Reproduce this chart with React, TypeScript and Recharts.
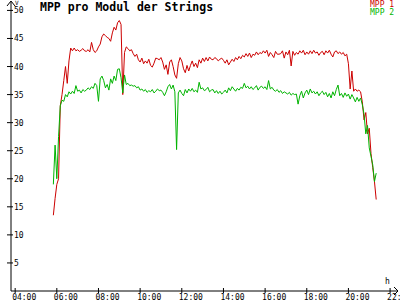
import React from 'react'
import { LineChart, Line, XAxis, YAxis } from 'recharts'

// samples every 5 minutes, first one at 05:50
const startHour = 5 + 50 / 60
const stepHours = 5 / 60

const mpp1 = [
  13.5, 16.5,
  19, 20, 33, 35, 37.5, 40, 37, 41, 43.3, 42.8, 43.3, 42.8,
  43, 42.7, 42.9, 43.2, 42.8, 42.7, 43, 42.6, 44.3, 43, 42.5, 42.8,
  43.5, 44, 45.3, 45.8, 45.5, 45.2, 45, 44.5, 46, 47, 46.5, 47.8,
  48.2, 47.5, 35, 42.5, 43.5, 43.2, 42.8, 43, 42.3, 41.8, 42.2, 41.2,
  40.8, 41.5, 40.5, 41, 40.6, 41.3, 40.2, 39.9, 40.6, 41.5, 41.4, 41.2,
  41.6, 40.8, 39.5, 40.3, 38.6, 40.8, 41.2, 40, 38.5, 37.9, 40.5, 41.6,
  41, 39.6, 38.9, 40.2, 39.2, 40.2, 41, 40, 40.6, 39.8, 41.2, 40.6,
  41.5, 40.9, 41.6, 41, 41.7, 41.3, 41.2, 41.6, 41.4, 41, 41.3, 41.5,
  41.1, 40.6, 41.2, 40.3, 40.8, 41.3, 40.9, 41.6, 41.2, 41.8, 41.4, 42,
  41.7, 42.3, 41.8, 42.4, 41.6, 42.2, 42, 42.6, 42.1, 42.5, 42.3, 42.8,
  42.4, 42.9, 41.8, 42.5, 42.1, 41.6, 42.7, 42.2, 42.2, 42.3, 42.8, 41.5,
  42.6, 42.1, 42.9, 40.1, 42.7, 42, 42.5, 42.2, 42.8, 42.4, 42.9, 42.1,
  42.6, 42.2, 42.8, 42.3, 42.9, 42.4, 42.6, 42, 42.5, 42.7, 42.1, 42.8,
  42.4, 42.9, 42.2, 41.7, 42.6, 42.8, 42.3, 42.6, 42.2, 42.5, 41.9, 42.2,
  40.5, 36, 39.2, 35.6, 36, 35.6, 35.8, 35.5, 33.7, 30.5, 31.8, 28,
  29, 24.5, 22, 19.5, 16.3
]

const mpp2 = [
  19, 26,
  20, 27.5, 33, 34, 33.8, 35, 34.6, 35.5, 35.1, 35.6, 35.2, 36.6,
  35.6, 35.8, 35.3, 35.9, 35.6, 35.8, 36.2, 35.9, 36.4, 36.1, 37, 36.6,
  33.8, 37.8, 38.3, 37.5, 36.2, 36.8, 35.8, 37.8, 37, 38.3, 37.5, 39.5,
  39.6, 38, 35.3, 38.5, 36.8, 37, 36.6, 36.7, 36.5, 36.6, 36.2, 36.4,
  35.8, 36, 35.6, 35.9, 35.4, 35.7, 35.5, 35.9, 35.3, 35.6, 36, 35.7,
  35.8, 35.4, 34.8, 35.5, 36.4, 36.8, 36, 36.7, 35.5, 25.2, 35.3, 35.8,
  35.2, 34.8, 35.9, 35.3, 36, 35.6, 36.1, 35.5, 35.8, 35.4, 37.2, 36,
  36.2, 35.7, 35.9, 36.3, 35.5, 35.8, 35.9, 35.3, 35.7, 35.2, 35.6, 35.1,
  35.4, 35.8, 35.3, 36.2, 35.7, 36.4, 36, 35.6, 36.1, 35.8, 36.3, 36.1,
  37, 36.2, 36.5, 36, 36.4, 35.9, 36.2, 36.6, 35.8, 36.3, 36.5, 36.1,
  36.4, 35.9, 37.5, 36, 36.3, 35.8, 35.6, 35.9, 35.4, 35.7, 35.2, 35.5,
  35.3, 35.1, 35.4, 34.9, 35.2, 35, 35.1, 33.3, 34.8, 35.6, 34.4, 35.3,
  35.8, 35, 36, 35.3, 35.6, 35.1, 35.5, 34.8, 35.3, 35.6, 35, 35.4,
  34.6, 35.2, 34.4, 35.5, 34.8, 35.9, 36.7, 34.8, 35.2, 34.5, 35.3, 34.7,
  35.1, 34.2, 35, 34.4, 33.7, 34.5, 33.8, 34.4, 33.2, 31.5, 28, 29.5,
  25.5, 24, 22.5, 19.5, 21
]

const xTicks = [4, 6, 8, 10, 12, 14, 16, 18, 20, 22]
const yTicks = [5, 10, 15, 20, 25, 30, 35, 40, 45, 50]
const seriesNames = ['MPP 1', 'MPP 2']
const seriesColors = ['#cc0000', '#00b400']
const title = 'MPP pro Modul der Strings'

const data = mpp1.map((v, i) => ({
  t: startHour + i * stepHours,
  mpp1: v,
  mpp2: mpp2[i]
}))

const W = 400
const H = 300
// axes get 1px of room each, the rest is margin
const margin = { top: 2, right: 2, bottom: 8, left: 10 }
const axisX = 11
const axisY = 291
const mono = '"DejaVu Sans Mono", monospace'

const fmtHour = (h: number) => (h < 10 ? '0' + h : '' + h) + ':00'

const YTick = (props: any) => {
  const { y, payload } = props
  return (
    <g>
      <line x1={axisX - 4} x2={axisX + 2} y1={y} y2={y} stroke="#000" />
      <text x={axisX + 3} y={y + 3} fontSize={8} fontFamily={mono} fill="#000">
        {payload.value}
      </text>
    </g>
  )
}

const XTick = (props: any) => {
  const { x, payload } = props
  return (
    <g>
      <line x1={x} x2={x} y1={axisY - 3} y2={axisY + 2} stroke="#000" />
      <text x={x - 3} y={axisY + 8.5} fontSize={8} fontFamily={mono} fill="#000">
        {fmtHour(payload.value)}
      </text>
    </g>
  )
}

export default function App() {
  return (
    <div style={{ position: 'absolute', left: 0, top: 0, width: W, height: H, background: '#fff' }}>
      <LineChart width={W} height={H} data={data} margin={margin}>
        <XAxis
          dataKey="t"
          type="number"
          domain={[3.8, 22.38]}
          ticks={xTicks}
          tick={<XTick />}
          tickLine={false}
          axisLine={{ stroke: '#000' }}
          height={1}
          interval={0}
          allowDataOverflow
        />
        <YAxis
          type="number"
          domain={[0, 51.5]}
          ticks={yTicks}
          tick={<YTick />}
          tickLine={false}
          axisLine={{ stroke: '#000' }}
          width={1}
          interval={0}
          allowDataOverflow
        />
        <Line
          dataKey="mpp1"
          name={seriesNames[0]}
          type="linear"
          stroke={seriesColors[0]}
          strokeWidth={1}
          dot={false}
          isAnimationActive={false}
        />
        <Line
          dataKey="mpp2"
          name={seriesNames[1]}
          type="linear"
          stroke={seriesColors[1]}
          strokeWidth={1}
          dot={false}
          isAnimationActive={false}
        />
      </LineChart>
      {/* title, legend and axis arrows */}
      <svg
        width={W}
        height={H}
        style={{ position: 'absolute', left: 0, top: 0, pointerEvents: 'none' }}
      >
        <text x={40} y={11} fontSize={11.5} fontWeight="bold" fontFamily={mono} fill="#000">
          {title}
        </text>
        <text x={370} y={7} fontSize={8} fontFamily={mono} fill={seriesColors[0]}>
          {seriesNames[0]}
        </text>
        <text x={370} y={15} fontSize={8} fontFamily={mono} fill={seriesColors[1]}>
          {seriesNames[1]}
        </text>
        <polyline points={`${axisX - 4},6 ${axisX},1 ${axisX + 4},6`} fill="none" stroke="#000" />
        <text x={15} y={5} fontSize={6} fontFamily={mono} fill="#000">V</text>
        <polyline points={`394,${axisY - 4} 398,${axisY} 394,${axisY + 4}`} fill="none" stroke="#000" />
        <text x={385} y={284} fontSize={8} fontFamily={mono} fill="#000">h</text>
      </svg>
    </div>
  )
}
